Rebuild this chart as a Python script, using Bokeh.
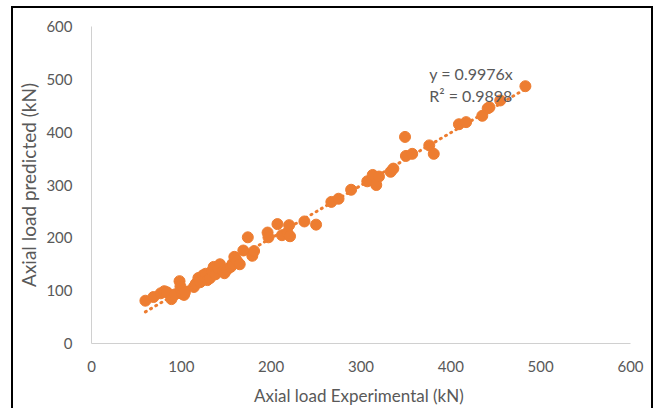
from bokeh.plotting import figure
from bokeh.models import Range1d, FixedTicker
from bokeh.embed import file_html
from bokeh.resources import INLINE
from bokeh.core.properties import value

# ---- data ----
exp_kn = [60, 69, 77, 81, 84, 89, 93, 98, 99, 100, 101, 103, 104,
          114, 116, 119, 121, 124, 127, 129, 132, 134, 136, 138, 141,
          143, 146, 148, 151, 155, 157, 159, 162, 165, 169, 174, 179,
          181, 196, 197, 207, 212, 218, 220, 221, 237, 250, 267, 275,
          289, 307, 313, 317, 320, 333, 336, 349, 350, 357, 376, 381,
          409, 417, 435, 441, 443, 455, 483]
pred_kn = [81, 88, 95, 99, 97, 84, 93, 118, 108, 100, 94, 92, 97,
           107, 113, 124, 116, 129, 132, 120, 124, 137, 145, 131, 142,
           150, 137, 133, 140, 145, 151, 164, 156, 150, 176, 201, 166,
           175, 210, 201, 226, 205, 210, 224, 203, 231, 225, 268, 274,
           291, 307, 319, 300, 316, 325, 331, 391, 355, 359, 375, 359,
           415, 419, 431, 445, 447, 460, 487]
slope = 0.9976
r_squared = 0.9898
x_ticks = [0, 100, 200, 300, 400, 500, 600]
y_ticks = [0, 100, 200, 300, 400, 500, 600]
x_title = "Axial load  Experimental (kN)"
y_title = "Axial load predicted (kN)"

ORANGE = "#ED7D31"
GREY_TXT = "#595959"
GREY_AX = "#d0d0d0"
FONT = "Lato"

p = figure(width=642, height=402, output_backend="svg", toolbar_location=None,
           x_range=Range1d(x_ticks[0], x_ticks[-1]),
           y_range=Range1d(y_ticks[0], y_ticks[-1]),
           min_border_left=78, min_border_right=25,
           min_border_top=18, min_border_bottom=67)
p.styles = {"border-left": "2px solid black", "border-top": "2px solid black",
            "border-right": "2px solid black", "margin-left": "11px",
            "margin-top": "6px"}
p.background_fill_color = "white"
p.border_fill_color = "white"
p.outline_line_color = None
p.xgrid.visible = False
p.ygrid.visible = False

for ax in (p.xaxis[0], p.yaxis[0]):
    ax.axis_line_color = GREY_AX
    ax.axis_line_width = 1
    ax.major_tick_line_color = None
    ax.minor_tick_line_color = None
    ax.major_tick_out = 0
    ax.major_tick_in = 0
    ax.minor_tick_out = 0
    ax.minor_tick_in = 0
    ax.major_label_text_color = GREY_TXT
    ax.major_label_text_font = FONT
    ax.major_label_text_font_size = "15px"
    ax.axis_label_text_color = GREY_TXT
    ax.axis_label_text_font = FONT
    ax.axis_label_text_font_style = "normal"

p.xaxis.ticker = FixedTicker(ticks=x_ticks)
p.yaxis.ticker = FixedTicker(ticks=y_ticks)
p.xaxis.major_label_standoff = 17
p.yaxis.major_label_standoff = 19

p.xaxis.axis_label = x_title
p.xaxis.axis_label_text_font_size = "17px"
p.xaxis.axis_label_standoff = 10

p.yaxis.axis_label = y_title
p.yaxis.axis_label_text_font_size = "19px"
p.yaxis.axis_label_standoff = 3

# trend line through origin, spanning the data
tx = [min(exp_kn), max(exp_kn)]
ty = [slope * v for v in tx]
p.line(tx, ty, line_color=ORANGE, line_width=3, line_dash="1 5",
       line_cap="round")

p.scatter(exp_kn, pred_kn, size=11, color=ORANGE, line_color=ORANGE)

p.text(x=[376, 376], y=[511, 470],
       text=[f"y = {slope}x", f"R\u00b2 = {r_squared}"],
       text_font=value(FONT), text_font_size="16px",
       text_color=GREY_TXT, text_baseline="middle", text_align="left")

open("out.html", "w").write(file_html(p, INLINE))
